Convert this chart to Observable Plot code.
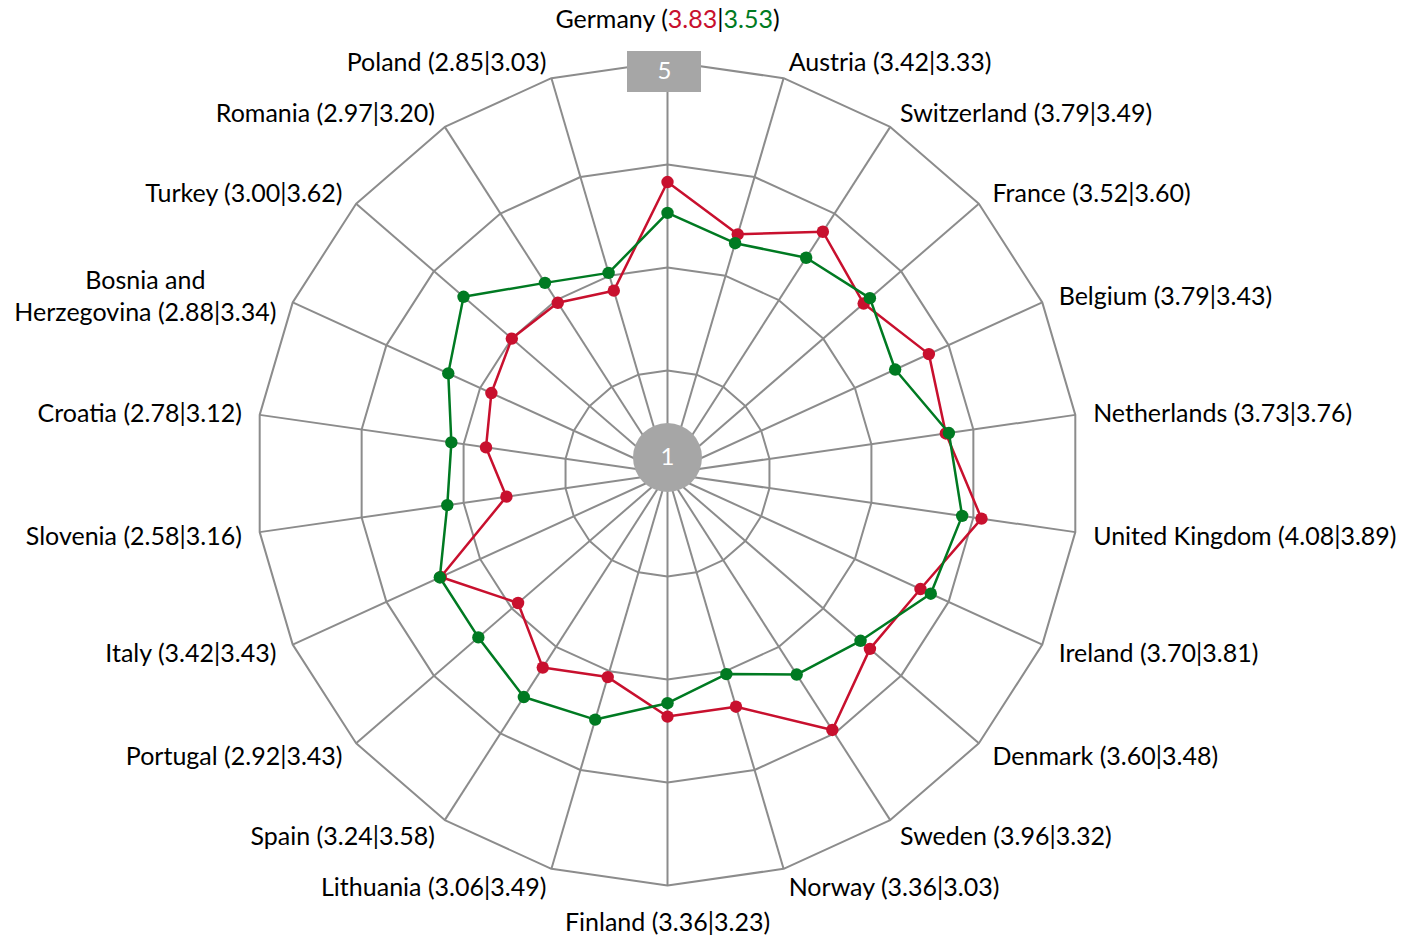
<!DOCTYPE html>
<html>
<head>
<meta charset="utf-8">
<script src="https://cdn.jsdelivr.net/npm/d3@7"></script>
<script src="https://cdn.jsdelivr.net/npm/@observablehq/plot@0.6"></script>
<style>
  html, body { margin: 0; padding: 0; background: #fff; }
  #chart svg { display: block; }
</style>
</head>
<body>
<div id="chart"></div>
<script>
const countries = ["Germany","Austria","Switzerland","France","Belgium","Netherlands","United Kingdom","Ireland","Denmark","Sweden","Norway","Finland","Lithuania","Spain","Portugal","Italy","Slovenia","Croatia","Bosnia and\nHerzegovina","Turkey","Romania","Poland"];
const redValues   = [3.83,3.42,3.79,3.52,3.79,3.73,4.08,3.70,3.60,3.96,3.36,3.36,3.06,3.24,2.92,3.42,2.58,2.78,2.88,3.00,2.97,2.85];
const greenValues = [3.53,3.33,3.49,3.60,3.43,3.76,3.89,3.81,3.48,3.32,3.03,3.23,3.49,3.58,3.43,3.43,3.16,3.12,3.34,3.62,3.20,3.03];
const ringLevels = [2,3,4,5];
const axisMin = 1, axisMax = 5;
const tickLabels = ["1","5"];

const W = 1407, H = 936;
const cx = 667, cy = 473, R = 412;
const pxPerUnit = R / (axisMax - axisMin);
const n = countries.length;
const ang = i => i * 2 * Math.PI / n;
const px = (i, v) => (v - axisMin) * Math.sin(ang(i));
const py = (i, v) => (v - axisMin) * Math.cos(ang(i));

const RED = "#C8102E", GREEN = "#007A22", GRID = "#8C8C8C";

const rings = ringLevels.flatMap(lv => d3.range(n + 1).map(k => ({lv, x: px(k % n, lv), y: py(k % n, lv)})));
const spokes = countries.map((c, i) => ({x2: px(i, axisMax), y2: py(i, axisMax)}));
const series = (vals, name) => vals.map((v, i) => ({name, i, x: px(i, v), y: py(i, v)}));
const redPts = series(redValues, "red");
const greenPts = series(greenValues, "green");
const closed = pts => pts.concat([pts[0]]);

// label positions (in value units, beyond the outer ring)
const labels = countries.map((c, i) => {
  const s = Math.sin(ang(i)), co = Math.cos(ang(i));
  const lr = Math.abs(s) < 0.1 ? (co > 0 ? 4.40 : 4.36) : 4.175;
  const anchor = Math.abs(s) < 0.1 ? "middle" : (s > 0 ? "start" : "end");
  const text = `${c} (${redValues[i].toFixed(2)}|${greenValues[i].toFixed(2)})`;
  return {i, text, x: lr * s, y: lr * co, anchor, multi: c.includes("\n")};
});

const xDom = [-cx / pxPerUnit, (W - cx) / pxPerUnit];
const yDom = [-(H - cy) / pxPerUnit, cy / pxPerUnit];

const fontFam = "Lato, 'Open Sans', sans-serif";
const FS = 25;

const plot = Plot.plot({
  width: W, height: H,
  margin: 0,
  x: {domain: xDom, range: [0, W], axis: null},
  y: {domain: yDom, range: [H, 0], axis: null},
  style: {fontFamily: fontFam, background: "#fff"},
  marks: [
    Plot.line(rings, {x: "x", y: "y", z: "lv", stroke: GRID, strokeWidth: 2, curve: "linear"}),
    Plot.link(spokes, {x1: 0, y1: 0, x2: "x2", y2: "y2", stroke: GRID, strokeWidth: 2}),
    Plot.line(closed(redPts), {x: "x", y: "y", stroke: RED, strokeWidth: 2.5}),
    Plot.dot(redPts, {x: "x", y: "y", r: 6.2, fill: RED}),
    Plot.line(closed(greenPts), {x: "x", y: "y", stroke: GREEN, strokeWidth: 2.5}),
    Plot.dot(greenPts, {x: "x", y: "y", r: 6.2, fill: GREEN}),
    // axis label "1" at center
    Plot.dot([tickLabels[0]], {x: 0, y: 16 / pxPerUnit, r: 34.5, fill: "#A6A6A6"}),
    Plot.text([tickLabels[0]], {x: 0, y: 16 / pxPerUnit, text: d => d, fill: "#fff", fontSize: 24}),
    // axis label "5" box at top
    Plot.rect([tickLabels[1]], {x1: -40 / pxPerUnit, x2: 34 / pxPerUnit, y1: (cy - 51) / pxPerUnit, y2: (cy - 92) / pxPerUnit, fill: "#A6A6A6"}),
    Plot.text([tickLabels[1]], {x: -3 / pxPerUnit, y: (cy - 71) / pxPerUnit, text: d => d, fill: "#fff", fontSize: 24}),
    // category labels
    Plot.text(labels.filter(d => !d.multi && d.anchor === "start"), {x: "x", y: "y", text: "text", textAnchor: "start", dy: 2, fill: "#000", fontSize: FS}),
    Plot.text(labels.filter(d => !d.multi && d.anchor === "end"), {x: "x", y: "y", text: "text", textAnchor: "end", dy: 2, fill: "#000", fontSize: FS}),
    Plot.text(labels.filter(d => !d.multi && d.anchor === "middle"), {x: "x", y: "y", text: "text", textAnchor: "middle", fill: "#000", fontSize: FS}),
    Plot.text(labels.filter(d => d.multi), {x: "x", y: "y", text: "text", textAnchor: "middle", dx: -131, lineHeight: 1.28, fill: "#000", fontSize: FS})
  ]
});

// colour the Germany numbers like the reference
d3.select(plot).selectAll("text").each(function() {
  const t = d3.select(this);
  const txt = t.text();
  if (txt.startsWith("Germany (")) {
    const m = txt.match(/^(Germany \()([\d.]+)\|([\d.]+)\)$/);
    if (m) {
      t.text(null);
      t.append("tspan").text(m[1]);
      t.append("tspan").attr("fill", RED).text(m[2]);
      t.append("tspan").text("|");
      t.append("tspan").attr("fill", GREEN).text(m[3]);
      t.append("tspan").text(")");
    }
  }
});

document.getElementById("chart").appendChild(plot);
</script>
</body>
</html>
